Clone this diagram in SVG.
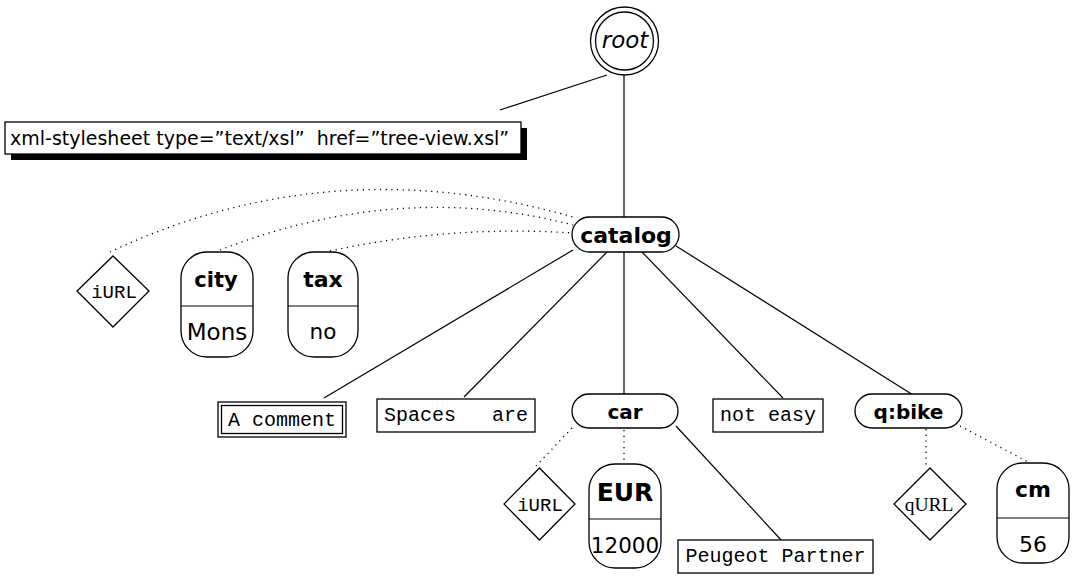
<svg xmlns="http://www.w3.org/2000/svg" width="1077" height="580" viewBox="0 0 1077 580">
<style>
.s{fill:#fff;stroke:#000;stroke-width:1.3}
.e{fill:none;stroke:#000;stroke-width:1.2}
.d{fill:none;stroke:#000;stroke-width:1.3;stroke-dasharray:1.2 4.5}
.sans{font-family:"DejaVu Sans","Liberation Sans",sans-serif;fill:#000}
.b{font-family:"DejaVu Sans","Liberation Sans",sans-serif;font-weight:bold;fill:#000}
.mono{font-family:"Liberation Mono","DejaVu Sans Mono",monospace;fill:#000}
.ser{font-family:"Liberation Serif","DejaVu Serif",serif;fill:#000}
</style>
<rect width="1077" height="580" fill="#fff"/>
<g id="connectors">
<line class="e" x1="624" y1="75" x2="624" y2="218"/>
<line class="e" x1="500" y1="110" x2="607" y2="75"/>
<line class="e" x1="573" y1="250" x2="324" y2="398"/>
<line class="e" x1="607" y1="252" x2="464" y2="397"/>
<line class="e" x1="624" y1="252" x2="624" y2="394"/>
<line class="e" x1="642" y1="252" x2="783" y2="398"/>
<line class="e" x1="676" y1="246" x2="921" y2="400"/>
<line class="e" x1="676" y1="426" x2="782" y2="541"/>
<path class="d" d="M110,252 Q330,148 573,217"/>
<path class="d" d="M220,250 Q400,180 573,225"/>
<path class="d" d="M330,251 Q450,225 573,233"/>
<line class="d" x1="572" y1="428" x2="536" y2="466"/>
<line class="d" x1="624" y1="430" x2="624" y2="463"/>
<line class="d" x1="926" y1="429" x2="926" y2="467"/>
<line class="d" x1="960" y1="426" x2="1030" y2="463"/>
</g>
<g id="root">
<circle class="s" cx="624.5" cy="41" r="34"/>
<circle class="s" cx="624.5" cy="41" r="29"/>
<text class="sans" x="625" y="48" font-size="23" font-style="italic" text-anchor="middle">root</text>
</g>
<g id="stylesheet">
<rect x="11" y="128" width="516" height="32" fill="#000"/>
<rect class="s" x="5" y="122" width="516" height="32"/>
<text class="sans" x="10" y="145" font-size="19" xml:space="preserve">xml-stylesheet type=”text/xsl”  href=”tree-view.xsl”</text>
</g>
<g id="catalog">
<rect class="s" x="572" y="217" width="107" height="35" rx="17.5"/>
<text class="b" x="626" y="243" font-size="22" text-anchor="middle">catalog</text>
</g>
<g id="iURL1">
<polygon class="s" points="113,256 149,291 113,327 77,291"/>
<text class="mono" x="114" y="298" font-size="19" text-anchor="middle">iURL</text>
</g>
<g id="city">
<rect class="s" x="181" y="252" width="72" height="105" rx="26"/>
<line class="e" x1="181" y1="306" x2="253" y2="306"/>
<text class="b" x="216" y="287" font-size="21" text-anchor="middle">city</text>
<text class="sans" x="217" y="340" font-size="23" text-anchor="middle">Mons</text>
</g>
<g id="tax">
<rect class="s" x="288" y="252" width="70" height="105" rx="26"/>
<line class="e" x1="288" y1="306" x2="358" y2="306"/>
<text class="b" x="323" y="287" font-size="22" text-anchor="middle">tax</text>
<text class="sans" x="323" y="339" font-size="21.5" text-anchor="middle">no</text>
</g>
<g id="comment">
<rect class="s" x="218" y="402" width="128" height="35"/>
<rect class="s" x="221.5" y="405.5" width="121" height="28"/>
<text class="mono" x="282" y="426" font-size="20" text-anchor="middle">A comment</text>
</g>
<g id="spaces">
<rect class="s" x="377" y="399" width="158" height="33"/>
<text class="mono" x="456" y="421" font-size="20" text-anchor="middle" xml:space="preserve">Spaces   are</text>
</g>
<g id="car">
<rect class="s" x="572" y="394" width="106" height="34" rx="17"/>
<text class="b" x="625" y="419" font-size="20" text-anchor="middle">car</text>
</g>
<g id="noteasy">
<rect class="s" x="713" y="399" width="110" height="33"/>
<text class="mono" x="768" y="421" font-size="20" text-anchor="middle">not easy</text>
</g>
<g id="qbike">
<rect class="s" x="855" y="394" width="107" height="34" rx="17"/>
<text class="b" x="908.5" y="419" font-size="20" text-anchor="middle">q:bike</text>
</g>
<g id="iURL2">
<polygon class="s" points="539.5,468 575,504 539.5,540 504,504"/>
<text class="mono" x="540" y="511" font-size="19" text-anchor="middle">iURL</text>
</g>
<g id="EUR">
<rect class="s" x="589" y="464" width="72" height="104" rx="26"/>
<line class="e" x1="589" y1="519" x2="661" y2="519"/>
<text class="b" x="625" y="501" font-size="25" text-anchor="middle">EUR</text>
<text class="sans" x="625" y="553" font-size="21.5" text-anchor="middle">12000</text>
</g>
<g id="peugeot">
<rect class="s" x="678" y="540" width="195" height="33"/>
<text class="mono" x="775.5" y="562" font-size="20" text-anchor="middle">Peugeot Partner</text>
</g>
<g id="qURL">
<polygon class="s" points="930,468 966,504 930,540 894,504"/>
<text class="ser" x="929" y="511" font-size="19.5" text-anchor="middle">qURL</text>
</g>
<g id="cm">
<rect class="s" x="997" y="463" width="72" height="100" rx="26"/>
<line class="e" x1="997" y1="518" x2="1069" y2="518"/>
<text class="b" x="1033" y="497" font-size="22" text-anchor="middle">cm</text>
<text class="sans" x="1033" y="552" font-size="22" text-anchor="middle">56</text>
</g>
</svg>
